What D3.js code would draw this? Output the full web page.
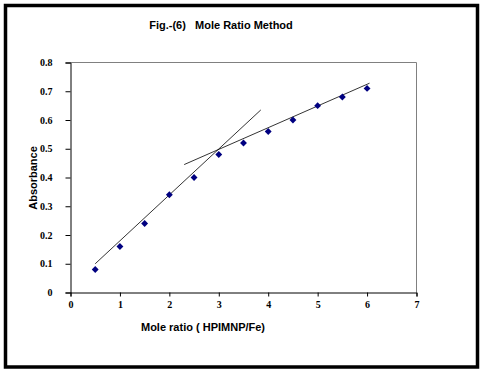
<!DOCTYPE html>
<html>
<head>
<meta charset="utf-8">
<script src="https://cdn.jsdelivr.net/npm/d3@7"></script>
<style>
  body { margin: 0; background: #fff; }
</style>
</head>
<body>
<svg width="484" height="373"></svg>
<script>
const moleRatio = [0.5, 1, 1.5, 2, 2.5, 3, 3.5, 4, 4.5, 5, 5.5, 6];
const absorbance = [0.08, 0.16, 0.24, 0.34, 0.40, 0.48, 0.52, 0.56, 0.60, 0.65, 0.68, 0.71];
// two hand-drawn tangent lines, [x, y] end points
const steepLine = [[0.5, 0.10], [3.85, 0.635]];
const flatLine = [[2.3, 0.445], [6.05, 0.728]];
const xTicks = [0, 1, 2, 3, 4, 5, 6, 7];
const yTicks = [0, 0.1, 0.2, 0.3, 0.4, 0.5, 0.6, 0.7, 0.8];

const svg = d3.select('svg');

// outer frame
svg.append('rect')
  .attr('x', 5.5)
  .attr('y', 5.5)
  .attr('width', 472)
  .attr('height', 361.5)
  .attr('fill', 'none')
  .attr('stroke', 'black')
  .attr('stroke-width', 3.5);

const x = d3.scaleLinear().domain([0, 7]).range([70.5, 416.5]);
const y = d3.scaleLinear().domain([0, 0.8]).range([292.5, 62.5]);

// top and right plot border in gray
svg.append('path')
  .attr('d', `M${x(0)},${y(0.8)}H${x(7)}V${y(0)}`)
  .attr('fill', 'none')
  .attr('stroke', '#808080');

const xAxis = svg.append('g')
  .attr('transform', `translate(0,${y(0)})`)
  .call(d3.axisBottom(x).tickValues(xTicks).tickFormat(d3.format('d')).tickSize(4).tickPadding(4));

const yAxis = svg.append('g')
  .attr('transform', `translate(${x(0)},0)`)
  .call(d3.axisLeft(y).tickValues(yTicks).tickFormat(d => d === 0 ? '0' : d3.format('.1f')(d)).tickSize(5).tickPadding(13));

[xAxis, yAxis].forEach(a => {
  a.select('.domain').attr('stroke', 'black');
  a.selectAll('text')
    .attr('font-family', '"Liberation Serif", "Times New Roman", serif')
    .attr('font-weight', 'bold')
    .attr('font-size', 10)
    .attr('fill', 'black');
});

const line = d3.line().x(d => x(d[0])).y(d => y(d[1]));

svg.append('path')
  .attr('d', line(steepLine))
  .attr('stroke', 'black')
  .attr('stroke-width', 0.8)
  .attr('fill', 'none');

svg.append('path')
  .attr('d', line(flatLine))
  .attr('stroke', 'black')
  .attr('stroke-width', 0.8)
  .attr('fill', 'none');

const diamond = d3.symbol().type(d3.symbolDiamond2).size(30);
svg.selectAll('.pt')
  .data(moleRatio)
  .join('path')
  .attr('class', 'pt')
  .attr('d', diamond)
  .attr('transform', (d, i) => `translate(${x(d)},${y(absorbance[i])})`)
  .attr('fill', '#000080');

svg.append('text')
  .attr('x', 221)
  .attr('y', 29)
  .attr('text-anchor', 'middle')
  .attr('font-family', 'Liberation Sans')
  .attr('font-weight', 'bold')
  .attr('font-size', 11)
  .attr('xml:space', 'preserve')
  .text('Fig.-(6)   Mole Ratio Method');

svg.append('text')
  .attr('x', 203)
  .attr('y', 331)
  .attr('text-anchor', 'middle')
  .attr('font-family', 'Liberation Sans')
  .attr('font-weight', 'bold')
  .attr('font-size', 11)
  .text('Mole ratio ( HPIMNP/Fe)');

svg.append('text')
  .attr('transform', 'translate(37,178) rotate(-90)')
  .attr('text-anchor', 'middle')
  .attr('font-family', 'Liberation Sans')
  .attr('font-weight', 'bold')
  .attr('font-size', 11)
  .text('Absorbance');
</script>
</body>
</html>
